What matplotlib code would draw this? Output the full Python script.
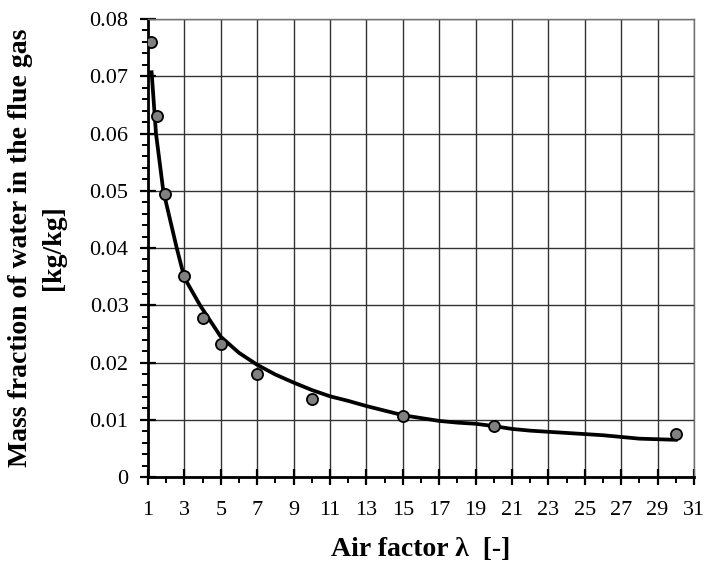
import numpy as np
import matplotlib.pyplot as plt
from matplotlib.ticker import MultipleLocator, FixedLocator

plt.rcParams['font.family'] = ['Liberation Serif', 'DejaVu Serif']

# measured points
lam_pts = [1.15, 1.5, 1.95, 3, 4, 5, 7, 10, 15, 20, 30]
w_pts = [0.0760, 0.0631, 0.0495, 0.0351, 0.0278, 0.0232, 0.0180, 0.0137, 0.0107, 0.0089, 0.0076]

# calculated curve
lam_line = [1.2, 1.44, 1.84, 2.58, 3, 3.86, 5, 6, 7, 8, 9, 10, 11, 12, 13, 14, 15, 16,
            17, 18, 19, 20, 21, 22, 23, 24, 25, 26, 27, 28, 29, 30]
w_line = [0.0707, 0.0600, 0.0500, 0.0400, 0.0348, 0.0300, 0.0245, 0.0217, 0.0196,
          0.0179, 0.0165, 0.0152, 0.0141, 0.0133, 0.0124, 0.0116, 0.0108, 0.0103,
          0.0098, 0.0095, 0.0093, 0.0089, 0.0084, 0.0081, 0.0079, 0.0077, 0.0075,
          0.0073, 0.0070, 0.0067, 0.0066, 0.0065]

xticks = list(range(1, 32, 2))
yticks = [0, 0.01, 0.02, 0.03, 0.04, 0.05, 0.06, 0.07, 0.08]
ylabels = ['0', '0.01', '0.02', '0.03', '0.04', '0.05', '0.06', '0.07', '0.08']

fig = plt.figure(figsize=(7.04, 5.78), dpi=100)
ax = fig.add_axes([0.2102, 0.1747, 0.7756, 0.7924])

ax.plot(lam_line, w_line, color='black', lw=2.7, zorder=3)
ax.plot(lam_pts, w_pts, 'o', ms=8, mfc='#808080', mec='black', mew=1.3, zorder=4)

ax.set_xlim(1, 31)
ax.set_ylim(0, 0.08)
ax.xaxis.set_major_locator(FixedLocator(xticks))
ax.xaxis.set_minor_locator(MultipleLocator(1))
ax.set_yticks(yticks)
ax.set_yticklabels(ylabels)
ax.yaxis.set_minor_locator(MultipleLocator(0.002))

ax.grid(True, which='major', color='#333333', lw=1.0)
ax.set_axisbelow(True)

ax.tick_params(which='major', direction='inout', length=12, width=1.6, labelsize=16)
ax.tick_params(which='minor', direction='out', length=4, width=1.4)
ax.tick_params(axis='x', which='major', pad=11)
ax.tick_params(axis='y', which='major', pad=8)

for s in ['left', 'bottom']:
    ax.spines[s].set_linewidth(2)
for s in ['top', 'right']:
    ax.spines[s].set_color('#707070')
    ax.spines[s].set_linewidth(1)

ax.set_xlabel('Air factor λ  [-]', fontsize=20, fontweight='bold', va='center')
ax.xaxis.set_label_coords(0.5, -0.158)
ax.set_ylabel('Mass fraction of water in the flue gas\n[kg/kg]', fontsize=20,
              fontweight='bold', linespacing=1.4, va='center')
ax.yaxis.set_label_coords(-0.203, 0.5)

plt.savefig('out.png', dpi=100)
